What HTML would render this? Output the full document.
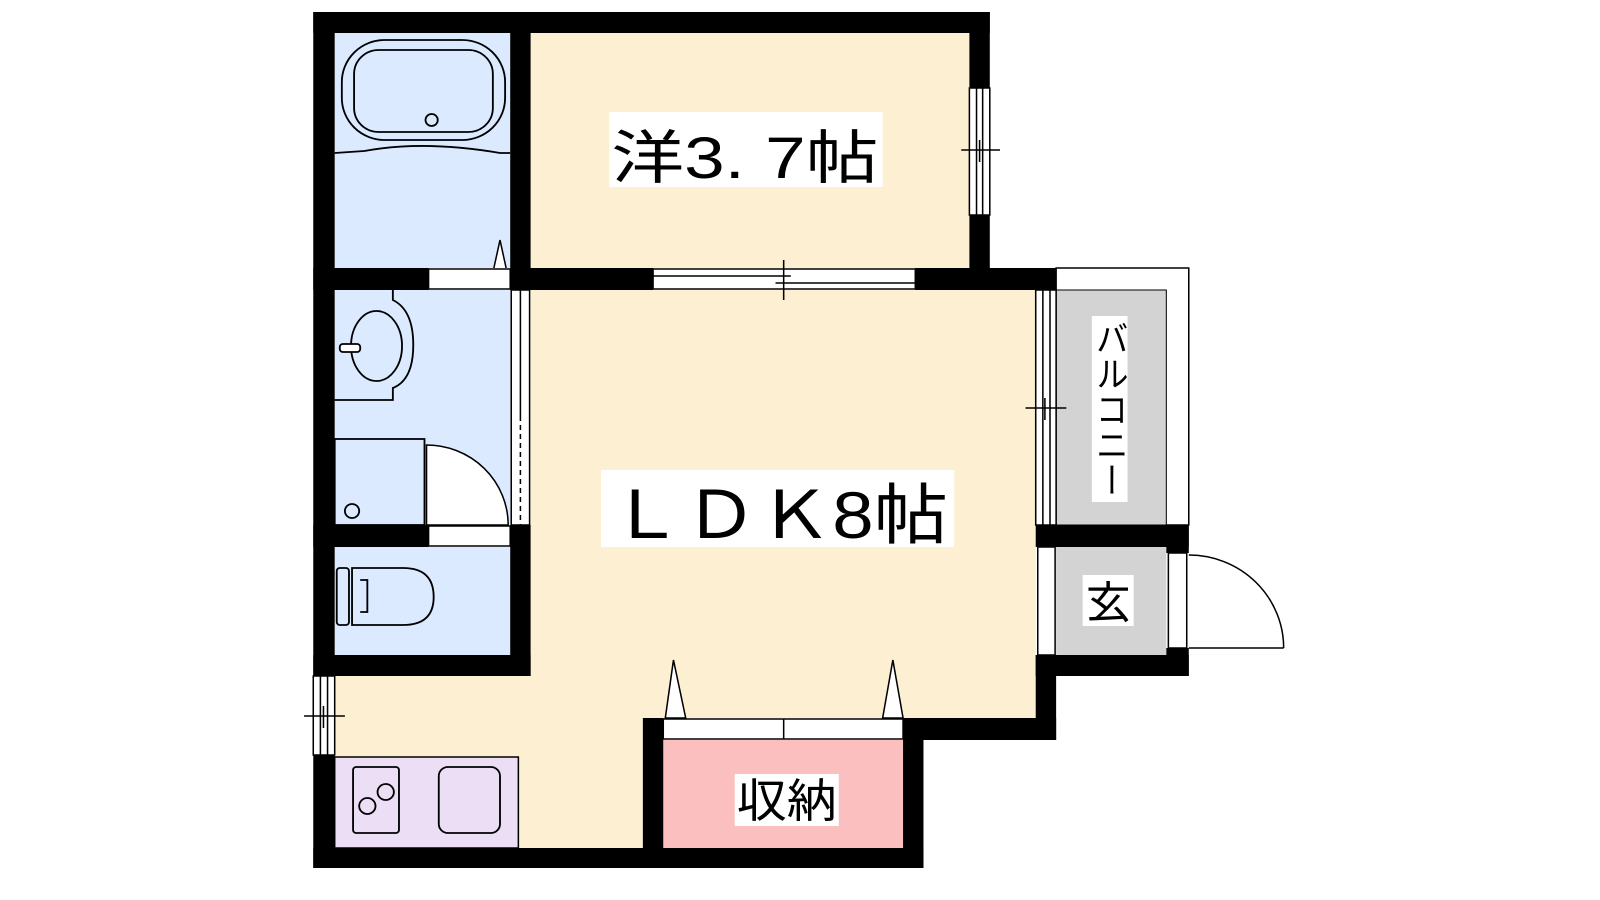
<!DOCTYPE html>
<html><head><meta charset="utf-8"><style>html,body{margin:0;padding:0;background:#fff;}svg{display:block}</style></head>
<body>
<svg width="1600" height="900" viewBox="0 0 1568 900" preserveAspectRatio="none" xmlns="http://www.w3.org/2000/svg" font-family="'Liberation Sans','Noto Sans CJK JP',sans-serif">
<rect width="1568" height="900" fill="#fff"/>
<!-- fills -->
<rect x="520" y="33" width="430" height="235" fill="#fdf0d2"/>
<rect x="328" y="33" width="172" height="235" fill="#dbeafe"/>
<rect x="328" y="290" width="172" height="235" fill="#dbeafe"/>
<rect x="328" y="547" width="172" height="108" fill="#dbeafe"/>
<rect x="520" y="290" width="495" height="428" fill="#fdf0d2"/>
<rect x="328" y="676" width="302" height="172" fill="#fdf0d2"/>
<rect x="520" y="655" width="110" height="30" fill="#fdf0d2"/>
<rect x="650" y="740" width="235" height="108" fill="#fbbfbf"/>
<rect x="1035" y="268" width="130" height="257" fill="#fff" stroke="#000" stroke-width="1.5"/>
<rect x="1035" y="290" width="108" height="235" fill="#d3d3d3" stroke="#000" stroke-width="1"/>
<rect x="1035" y="547" width="108" height="108" fill="#d3d3d3"/>
<!-- walls -->
<g fill="#000">
<rect x="307" y="12" width="663" height="21"/>
<rect x="307" y="12" width="21" height="664"/>
<rect x="307" y="755" width="21" height="113"/>
<rect x="950" y="12" width="20" height="76"/>
<rect x="950" y="215" width="20" height="75"/>
<rect x="500" y="33" width="20" height="257"/>
<rect x="307" y="268" width="113" height="22"/>
<rect x="500" y="268" width="140" height="22"/>
<rect x="897" y="268" width="138" height="22"/>
<rect x="307" y="525" width="113" height="22"/>
<rect x="500" y="525" width="20" height="151"/>
<rect x="307" y="655" width="213" height="21"/>
<rect x="1015" y="268" width="20" height="22"/>
<rect x="1015" y="525" width="150" height="22"/>
<rect x="1143" y="525" width="22" height="28"/>
<rect x="1143" y="648" width="22" height="28"/>
<rect x="1015" y="655" width="150" height="21"/>
<rect x="1015" y="655" width="20" height="85"/>
<rect x="885" y="718" width="150" height="22"/>
<rect x="630" y="718" width="20" height="150"/>
<rect x="885" y="718" width="20" height="150"/>
<rect x="307" y="848" width="598" height="20"/>
</g>
<g fill="#fff" stroke="#000" stroke-width="1.5">
<!-- windows/doors strips -->
<rect x="950" y="88" width="20" height="127"/>
<line x1="957" y1="88" x2="957" y2="215"/><line x1="963" y1="88" x2="963" y2="215"/>
<rect x="640" y="269" width="257" height="20"/>
<line x1="640" y1="276" x2="775" y2="276"/><line x1="760" y1="283" x2="897" y2="283"/>
<rect x="307" y="676" width="21" height="79"/>
<line x1="314" y1="676" x2="314" y2="755"/><line x1="321" y1="676" x2="321" y2="755"/>
<rect x="1015" y="290" width="20" height="235"/>
<line x1="1022" y1="290" x2="1022" y2="525"/><line x1="1029" y1="290" x2="1029" y2="525"/>
<rect x="420" y="269" width="80" height="20"/>
<rect x="420" y="526" width="80" height="20"/>
<rect x="501" y="290" width="18" height="235"/>
<line x1="510" y1="290" x2="510" y2="416"/>
<rect x="1017" y="547" width="17" height="108"/>
<rect x="1145" y="553" width="18" height="95"/>
<rect x="650" y="719" width="235" height="20"/>
<line x1="768" y1="719" x2="768" y2="739"/>
</g>
<line x1="510" y1="416" x2="510" y2="525" stroke="#000" stroke-width="1.5" stroke-dasharray="5,4"/>
<!-- ticks -->
<g stroke="#000" stroke-width="1.5">
<line x1="942" y1="150" x2="980" y2="150"/><line x1="960" y1="140" x2="960" y2="162"/>
<line x1="768" y1="260" x2="768" y2="300"/>
<line x1="298" y1="716" x2="338" y2="716"/><line x1="317" y1="706" x2="317" y2="728"/>
<line x1="1005" y1="408" x2="1045" y2="408"/><line x1="1024" y1="398" x2="1024" y2="420"/>
</g>
<!-- door triangles -->
<g fill="#fff" stroke="#000" stroke-width="1.5">
<path d="M484,268 L490,240 L496,268"/>
<path d="M652,718 L660,660 L672,718Z"/>
<path d="M865,718 L875,660 L885,718Z"/>
<path d="M418,445 A80,80 0 0 1 498,525 L418,525Z"/>
<path d="M1165,555 A93,93 0 0 1 1258,648" fill="none"/>
<line x1="1165" y1="648" x2="1258" y2="648"/>
</g>
<!-- bath fixtures -->
<g fill="none" stroke="#000" stroke-width="1.8">
<rect x="335" y="40" width="160" height="100" rx="42"/>
<rect x="347" y="50" width="136" height="82" rx="24"/>
<circle cx="423" cy="120" r="6"/>
<path d="M328,153 L357,151 Q415,140 490,153 L500,153"/>
<path d="M385,290 L385,300 Q405,310 405,345 Q405,380 385,388 L385,400 L328,400"/>
<ellipse cx="369" cy="346" rx="25" ry="35"/>
<rect x="333" y="344" width="20" height="8" rx="3" fill="#fff"/>
<rect x="328" y="439" width="88" height="86" fill="#dbeafe"/>
<circle cx="345" cy="511" r="7"/>
<path d="M345,568 L395,568 Q425,568 425,597 Q425,625 395,625 L345,625Z"/>
<rect x="330" y="568" width="12" height="57" rx="3"/>
<path d="M353,580 L360,580 L360,612 L353,612"/>
<rect x="328" y="757" width="180" height="91" fill="#ecdff5" stroke-width="1.5"/>
<rect x="346" y="767" width="45" height="66" rx="3"/>
<circle cx="360" cy="806" r="8"/><circle cx="378" cy="792" r="8"/>
<rect x="430" y="767" width="60" height="66" rx="9"/>
</g>
<!-- labels -->
<g fill="#000">
<rect x="597" y="112" width="268" height="75" fill="#fff"/>
<text x="599" y="178" font-size="58" textLength="262" lengthAdjust="spacingAndGlyphs">洋3. 7帖</text>
<rect x="589" y="470" width="346" height="77" fill="#fff"/>
<text x="597" y="538" font-size="66" textLength="332" lengthAdjust="spacingAndGlyphs">ＬＤＫ8帖</text>
<rect x="720" y="774" width="102" height="52" fill="#fff"/>
<text x="722" y="817" font-size="46" textLength="98" lengthAdjust="spacingAndGlyphs">収納</text>
<rect x="1070" y="316" width="35" height="186" fill="#fff"/>
<text x="1088" y="320" font-size="32" style="writing-mode:vertical-rl" textLength="178" lengthAdjust="spacingAndGlyphs">バルコニー</text>
<rect x="1061" y="575" width="50" height="51" fill="#fff"/>
<text x="1064" y="618" font-size="44">玄</text>
</g>
</svg>
</body></html>
